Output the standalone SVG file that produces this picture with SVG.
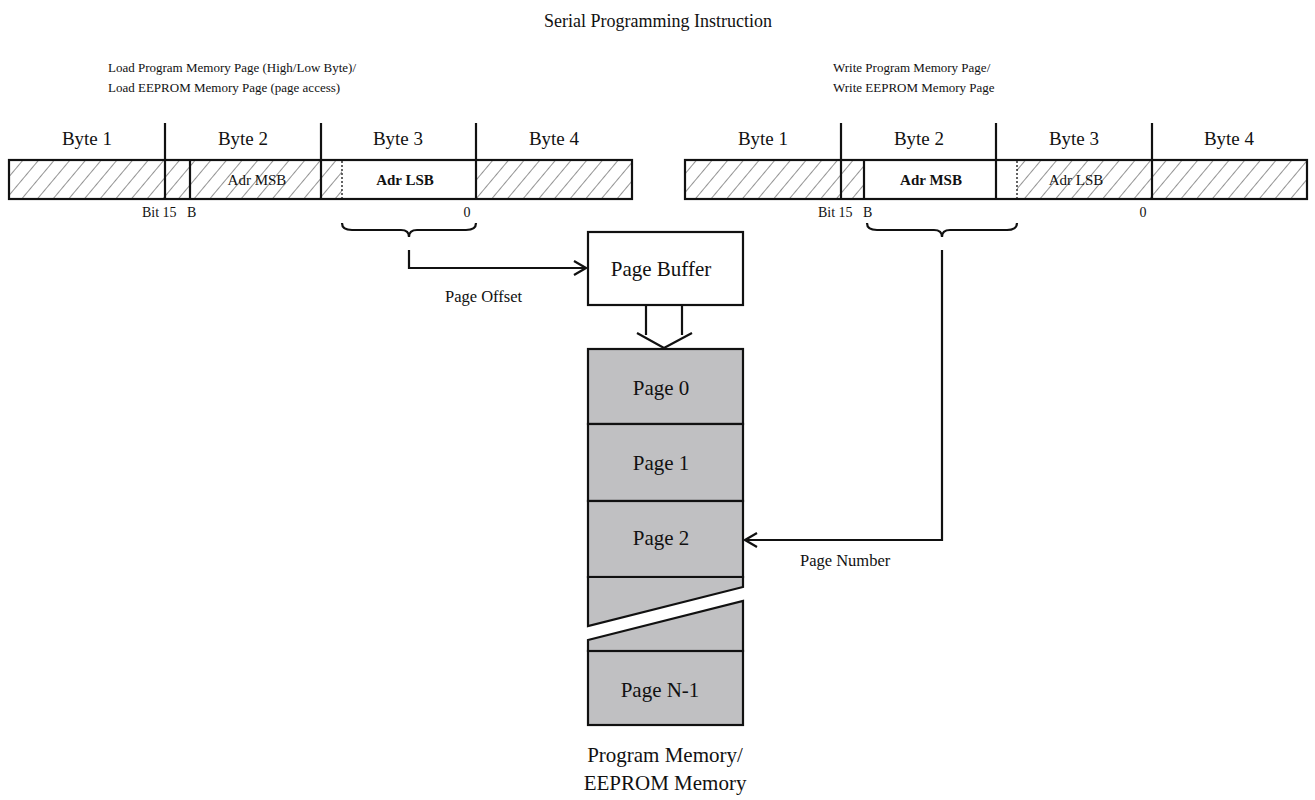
<svg xmlns="http://www.w3.org/2000/svg" width="1315" height="800" viewBox="0 0 1315 800">
<style>
text{font-family:"Liberation Serif","Times New Roman",serif;fill:#111}
.t{font-size:19px;text-anchor:middle}
.p{font-size:21px;text-anchor:middle}
.s{font-size:13px}
.a{font-size:15px;text-anchor:middle}
.sm{font-size:14px}
.lb{font-size:16.5px}
.b{font-weight:bold}
.ln{stroke:#111;stroke-width:2.2;fill:none}
.box{stroke:#111;stroke-width:2.2;fill:#fff}
.mem{stroke:#111;stroke-width:2.2;fill:#c0c0c2}
.h{fill:url(#hatch);stroke:none}
.dash{stroke:#111;stroke-width:1.3;stroke-dasharray:2,2}
</style>
<defs>
<pattern id="hatch" patternUnits="userSpaceOnUse" width="12" height="12" patternTransform="rotate(40)">
<line x1="0" y1="0" x2="0" y2="12" stroke="#666" stroke-width="1.4"/>
</pattern>
<marker id="arr" markerWidth="14" markerHeight="16" refX="13" refY="8" orient="auto" markerUnits="userSpaceOnUse">
<path d="M1,1 L13,8 L1,15" fill="none" stroke="#111" stroke-width="2.2"/>
</marker>
</defs>
<text x="658" y="27" font-size="18" text-anchor="middle">Serial Programming Instruction</text>
<text x="108" y="72" class="s">Load Program Memory Page (High/Low Byte)/</text>
<text x="108" y="92" class="s">Load EEPROM Memory Page (page access)</text>
<text x="833" y="72" class="s">Write Program Memory Page/</text>
<text x="833" y="92" class="s">Write EEPROM Memory Page</text>
<g id="left-instruction">
<rect x="9" y="160" width="623" height="39" fill="#fff"/>
<rect x="9" y="160" width="333" height="39" class="h"/>
<rect x="476" y="160" width="156" height="39" class="h"/>
<rect x="9" y="160" width="623" height="39" class="ln"/>
<line x1="165" y1="123" x2="165" y2="199" class="ln"/>
<line x1="321" y1="123" x2="321" y2="199" class="ln"/>
<line x1="476" y1="123" x2="476" y2="199" class="ln"/>
<line x1="190" y1="160" x2="190" y2="199" class="ln"/>
<line x1="342" y1="161" x2="342" y2="198" class="dash"/>
<text x="87" y="145" class="t">Byte 1</text>
<text x="243" y="145" class="t">Byte 2</text>
<text x="398" y="145" class="t">Byte 3</text>
<text x="554" y="145" class="t">Byte 4</text>
<text x="257" y="185" class="a">Adr MSB</text>
<text x="405" y="185" class="a b">Adr LSB</text>
<text x="142" y="217" class="sm">Bit 15</text>
<text x="187" y="217" class="sm">B</text>
<text x="467" y="217" class="sm" text-anchor="middle">0</text>
</g>
<g id="right-instruction">
<rect x="685" y="160" width="622" height="39" fill="#fff"/>
<rect x="685" y="160" width="179" height="39" class="h"/>
<rect x="1017" y="160" width="290" height="39" class="h"/>
<rect x="685" y="160" width="622" height="39" class="ln"/>
<line x1="841" y1="123" x2="841" y2="199" class="ln"/>
<line x1="996" y1="123" x2="996" y2="199" class="ln"/>
<line x1="1152" y1="123" x2="1152" y2="199" class="ln"/>
<line x1="864" y1="160" x2="864" y2="199" class="ln"/>
<line x1="1017" y1="161" x2="1017" y2="198" class="dash"/>
<text x="763" y="145" class="t">Byte 1</text>
<text x="919" y="145" class="t">Byte 2</text>
<text x="1074" y="145" class="t">Byte 3</text>
<text x="1229" y="145" class="t">Byte 4</text>
<text x="931" y="185" class="a b">Adr MSB</text>
<text x="1076" y="185" class="a">Adr LSB</text>
<text x="818" y="217" class="sm">Bit 15</text>
<text x="863" y="217" class="sm">B</text>
<text x="1143" y="217" class="sm" text-anchor="middle">0</text>
</g>
<g id="page-buffer">
<rect x="588" y="232" width="155" height="73" class="box"/>
<text x="661" y="276" class="p">Page Buffer</text>
</g>
<g id="memory">
<rect x="588" y="349" width="155" height="75" class="mem"/>
<rect x="588" y="424" width="155" height="77" class="mem"/>
<rect x="588" y="501" width="155" height="76" class="mem"/>
<path d="M588,577 L743,577 L743,587 L588,626 Z" class="mem"/>
<path d="M588,640 L743,601 L743,651 L588,651 Z" class="mem"/>
<rect x="588" y="651" width="155" height="74" class="mem"/>
<text x="661" y="395" class="p">Page 0</text>
<text x="661" y="470" class="p">Page 1</text>
<text x="661" y="545" class="p">Page 2</text>
<text x="660" y="697" class="p">Page N-1</text>
<text x="665" y="762" class="p">Program Memory/</text>
<text x="665" y="790" class="p">EEPROM Memory</text>
</g>
<g id="connectors">
<path d="M342,223 Q342,230 352,230 L401,230 Q409,230 409,237 Q409,230 417,230 L466,230 Q476,230 476,223" class="ln"/>
<path d="M867,223 Q867,230 877,230 L934,230 Q942,230 942,237 Q942,230 950,230 L1007,230 Q1017,230 1017,223" class="ln"/>
<path d="M409,250 L409,268 L586,268" class="ln" marker-end="url(#arr)"/>
<path d="M942,250 L942,540 L745,540" class="ln" marker-end="url(#arr)"/>
<line x1="646" y1="305" x2="646" y2="335" class="ln"/>
<line x1="682" y1="305" x2="682" y2="335" class="ln"/>
<path d="M637,333 L664,348 L692,333" class="ln"/>
<text x="445" y="302" class="lb">Page Offset</text>
<text x="800" y="566" class="lb">Page Number</text>
</g>
</svg>
